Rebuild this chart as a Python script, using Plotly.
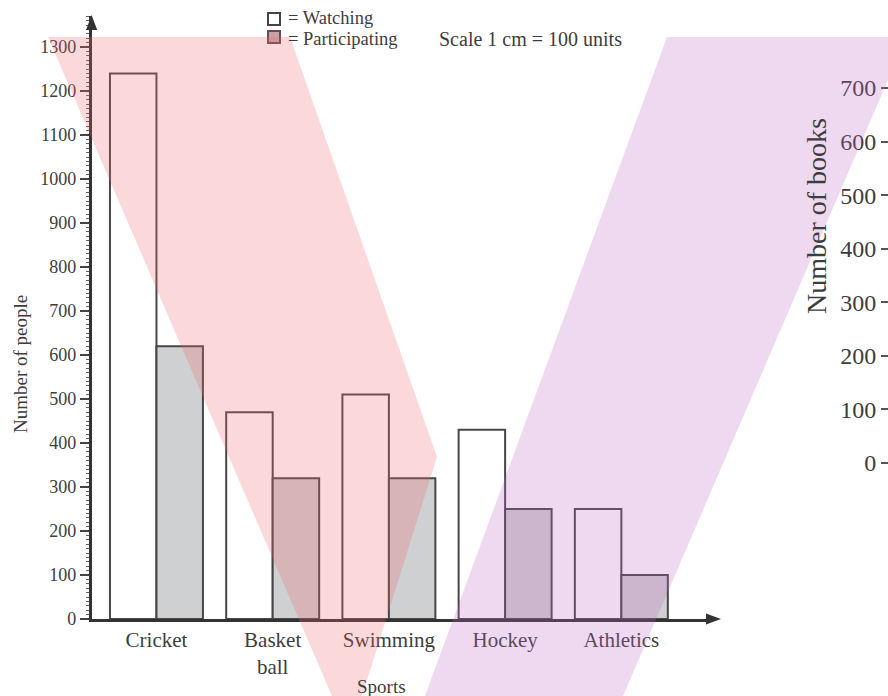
import plotly.graph_objects as go

# ---------------- data ----------------
categories = ["Cricket", "Basket<br>ball", "Swimming", "Hockey", "Athletics"]
watching = [1240, 470, 510, 430, 250]
participating = [620, 320, 320, 250, 100]
people_ticks = list(range(0, 1301, 100))
books_ticks = list(range(0, 701, 100))

W, H = 888, 696
FONT = "Liberation Serif"
TXT = "#3d3d3d"
EDGE = "#474747"


def px(x):
    return x / W


def py(y):
    return 1 - y / H


def poly(points):
    return "M " + " L ".join(f"{px(x):.5f},{py(y):.5f}" for x, y in points) + " Z"


fig = go.Figure()
fig.add_bar(x=categories, y=watching, name="Watching",
            marker=dict(color="white", line=dict(color=EDGE, width=2)),
            showlegend=False, hoverinfo="skip")
fig.add_bar(x=categories, y=participating, name="Participating",
            marker=dict(color="#cfd0d1", line=dict(color=EDGE, width=2)),
            showlegend=False, hoverinfo="skip")
# carrier trace for the partial second chart axis on the right
fig.add_scatter(x=[], y=[], xaxis="x", yaxis="y3", showlegend=False, hoverinfo="skip")

shapes = []
shapes.append(dict(type="path", xref="paper", yref="paper",
                   path=poly([(91.6, 15), (86, 30), (97.2, 30)]),
                   fillcolor="#333", line=dict(width=0), layer="above"))
shapes.append(dict(type="path", xref="paper", yref="paper",
                   path=poly([(721, 619), (706, 613.5), (706, 624.5)]),
                   fillcolor="#333", line=dict(width=0), layer="above"))
shapes.append(dict(type="rect", xref="paper", yref="paper",
                   x0=px(268), x1=px(280), y0=py(25), y1=py(13),
                   fillcolor="white", line=dict(color="#444", width=2), layer="above"))
shapes.append(dict(type="rect", xref="paper", yref="paper",
                   x0=px(268), x1=px(280), y0=py(43), y1=py(31),
                   fillcolor="#c9a4a7", line=dict(color="#6a4b52", width=2), layer="above"))
shapes.append(dict(type="path", xref="paper", yref="paper",
                   path=poly([(48, 37), (290, 37), (437, 457), (362, 696), (332, 696)]),
                   fillcolor="rgba(240,100,105,0.25)", line=dict(width=0), layer="above"))
shapes.append(dict(type="path", xref="paper", yref="paper",
                   path=poly([(667, 37), (888, 37), (888, 80), (623, 696), (425, 696)]),
                   fillcolor="rgba(191,103,195,0.25)", line=dict(width=0), layer="above"))


def note(text, x, y, size, angle=0, anchor="left"):
    return dict(text=text, x=px(x), y=py(y), xref="paper", yref="paper",
                xanchor=anchor, yanchor="middle", showarrow=False, textangle=angle,
                borderpad=0, font=dict(family=FONT, size=size, color=TXT))


annotations = [
    note("= Watching", 287, 17.5, 18.5),
    note("= Participating", 287, 39, 18.5),
    note("Scale 1 cm = 100 units", 438, 39, 20),
    note("Sports", 381, 686, 19, anchor="center"),
    note("Number of people", 20, 364, 19, angle=-90, anchor="center"),
    note("Number of books", 817, 216, 28, angle=-90, anchor="center"),
]

fig.update_layout(
    width=W, height=H, autosize=False,
    margin=dict(l=0, r=0, t=0, b=0, pad=0, autoexpand=False),
    paper_bgcolor="white", plot_bgcolor="rgba(0,0,0,0)",
    barmode="group", bargap=0.2, bargroupgap=0,
    font=dict(family=FONT, color=TXT),
    xaxis=dict(domain=[px(91.6), px(712)], range=[-0.558, 4.78], automargin=False,
               showline=True, linecolor="#333", linewidth=2.5,
               ticks="",
               tickfont=dict(family=FONT, size=21, color=TXT),
               showgrid=False, zeroline=False),
    yaxis=dict(domain=[py(619), py(16.2)], range=[0, 1370], automargin=False,
               tickmode="array", tickvals=people_ticks,
               ticks="outside", ticklen=9, tickwidth=1.5, tickcolor="#444",
               minor=dict(ticks="outside", ticklen=3, tickwidth=1, tickcolor="#666",
                          dtick=10, tick0=0),
               showline=True, linecolor="#333", linewidth=2.5,
               showgrid=False, zeroline=False,
               tickfont=dict(family=FONT, size=18, color=TXT)),
    yaxis3=dict(domain=[py(463), py(88)], range=[0, 700], automargin=False,
                anchor="free", position=1.0, side="left",
                tickmode="array", tickvals=books_ticks,
                ticks="outside", ticklen=7, tickwidth=1.5, tickcolor="#555",
                showline=False, showgrid=False, zeroline=False,
                tickfont=dict(family=FONT, size=24, color=TXT)),
    shapes=shapes,
    annotations=annotations,
)

fig.write_html("out.html", config={"displayModeBar": False},
               post_script="document.body.style.margin='0';document.body.style.overflow='hidden';")
